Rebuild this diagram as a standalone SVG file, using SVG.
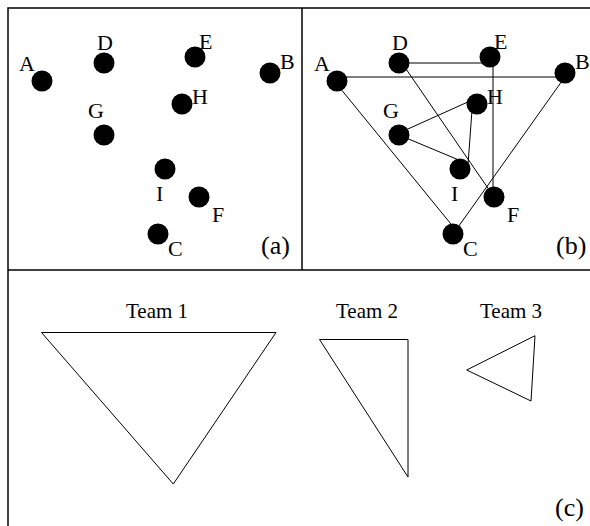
<svg xmlns="http://www.w3.org/2000/svg" width="590" height="526" viewBox="0 0 590 526">
  <style>
    .frame { stroke: #000; stroke-width: 1.5; fill: none; }
    .edge { stroke: #000; stroke-width: 1; fill: none; }
    .dot { fill: #000; }
    text { font-family: "Liberation Serif", "Times New Roman", serif; font-size: 22px; fill: #000; }
    .team { font-size: 21px; }
    .tag { font-size: 26px; }
    .tri { stroke: #000; stroke-width: 1; fill: none; stroke-linejoin: miter; }
  </style>
  <defs>
    <circle id="pt" r="10.5" class="dot"/>
  </defs>
  <rect width="590" height="526" fill="#fff"/>

  <!-- frame and panel dividers -->
  <g id="frame">
    <path class="frame" d="M8,526 V8 H590"/>
    <path class="frame" d="M8,270 H590"/>
    <path class="frame" d="M302,8 V270"/>
  </g>

  <!-- panel (a): individual positions -->
  <g id="panel-a">
    <g id="a-A"><use href="#pt" x="42" y="81"/><text x="19" y="71">A</text></g>
    <g id="a-D"><use href="#pt" x="104" y="63"/><text x="97" y="50">D</text></g>
    <g id="a-E"><use href="#pt" x="195" y="57"/><text x="199" y="49">E</text></g>
    <g id="a-B"><use href="#pt" x="270" y="73"/><text x="280" y="69">B</text></g>
    <g id="a-H"><use href="#pt" x="182" y="104"/><text x="192" y="104">H</text></g>
    <g id="a-G"><use href="#pt" x="104" y="135"/><text x="88" y="118">G</text></g>
    <g id="a-I"><use href="#pt" x="165" y="169"/><text x="156" y="201">I</text></g>
    <g id="a-F"><use href="#pt" x="199" y="197"/><text x="212" y="222">F</text></g>
    <g id="a-C"><use href="#pt" x="158" y="234"/><text x="168" y="256">C</text></g>
    <text class="tag" x="261" y="254">(a)</text>
  </g>

  <!-- panel (b): team connectors -->
  <g id="connectors">
    <line class="edge" x1="337" y1="77" x2="560" y2="77"/>
    <line class="edge" x1="340" y1="88" x2="455" y2="229"/>
    <line class="edge" x1="562" y1="81" x2="456" y2="230"/>
    <line class="edge" x1="399" y1="63" x2="486" y2="63"/>
    <line class="edge" x1="493" y1="60" x2="493" y2="195"/>
    <line class="edge" x1="404" y1="66" x2="494" y2="197"/>
    <line class="edge" x1="399" y1="133" x2="470" y2="101"/>
    <line class="edge" x1="399" y1="135" x2="466" y2="163"/>
    <line class="edge" x1="472" y1="110" x2="468" y2="165"/>
  </g>

  <g id="panel-b">
    <g id="b-A"><use href="#pt" x="337" y="81"/><text x="314" y="71">A</text></g>
    <g id="b-D"><use href="#pt" x="399" y="63"/><text x="392" y="50">D</text></g>
    <g id="b-E"><use href="#pt" x="490" y="57"/><text x="494" y="49">E</text></g>
    <g id="b-B"><use href="#pt" x="565" y="73"/><text x="575" y="69">B</text></g>
    <g id="b-H"><use href="#pt" x="477" y="104"/><text x="487" y="104">H</text></g>
    <g id="b-G"><use href="#pt" x="399" y="135"/><text x="383" y="118">G</text></g>
    <g id="b-I"><use href="#pt" x="460" y="169"/><text x="451" y="201">I</text></g>
    <g id="b-F"><use href="#pt" x="494" y="197"/><text x="507" y="222">F</text></g>
    <g id="b-C"><use href="#pt" x="453" y="234"/><text x="463" y="256">C</text></g>
    <text class="tag" x="556" y="254">(b)</text>
  </g>

  <!-- panel (c): team shapes -->
  <g id="team1">
    <text class="team" x="126" y="318">Team 1</text>
    <polygon class="tri" points="41.5,332.5 276,332.5 173.3,484"/>
  </g>
  <g id="team2">
    <text class="team" x="336" y="318">Team 2</text>
    <polygon class="tri" points="319.5,339.5 408,339.5 408,477"/>
  </g>
  <g id="team3">
    <text class="team" x="480" y="318">Team 3</text>
    <polygon class="tri" points="466.7,370 535,335.7 531,401"/>
  </g>
  <text class="tag" x="555" y="516">(c)</text>
</svg>
